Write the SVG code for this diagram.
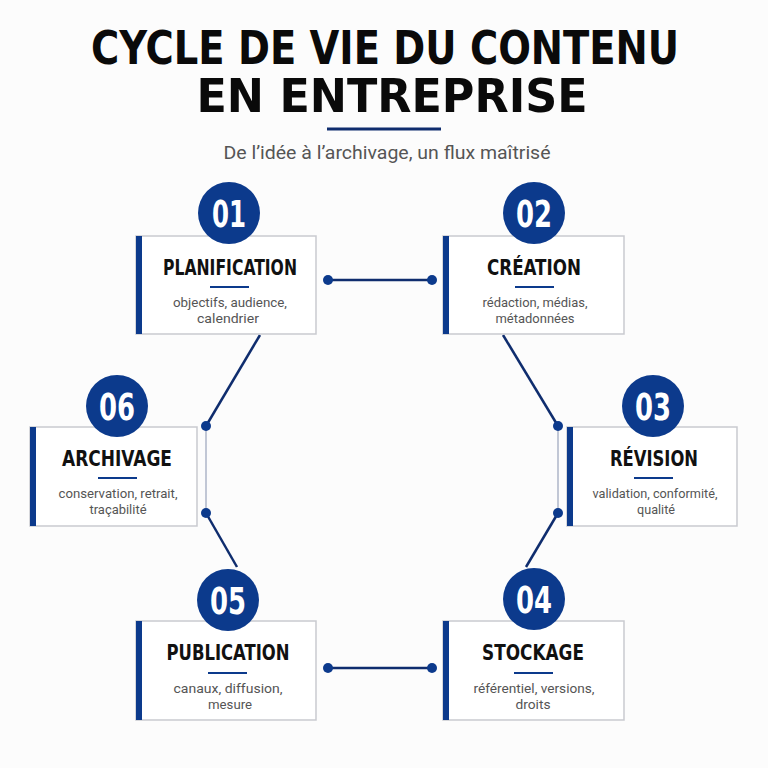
<svg xmlns="http://www.w3.org/2000/svg" width="768" height="768" viewBox="0 0 768 768">
<style>
.bg{fill:#fcfcfc}
.box{fill:#ffffff;stroke:#c9cacf;stroke-width:1.5}
.bar{fill:#0c3a8c}
.circ{fill:#0c3a8c}
.num{font-family:"DejaVu Sans Condensed","Roboto","Liberation Sans",sans-serif;font-weight:bold;font-size:37px;fill:#ffffff;text-anchor:middle}
.ttl{font-family:"DejaVu Sans Condensed","Roboto","Liberation Sans",sans-serif;font-weight:bold;font-size:21px;fill:#111111;text-anchor:middle}
.uline{stroke:#0c3a8c;stroke-width:2}
.desc{font-family:"Roboto","Liberation Sans",sans-serif;font-size:13.5px;fill:#555555;text-anchor:middle}
.conn{stroke:#0f2d6e;stroke-width:2.5;fill:none}
.thin{stroke:#aeb6c8;stroke-width:1.5;fill:none}
.dot{fill:#0c3a8c}
.h1{font-family:"DejaVu Sans Condensed","Roboto","Liberation Sans",sans-serif;font-weight:900;font-size:47px;fill:#0a0a0a;text-anchor:middle}
.sub{font-family:"Roboto","Liberation Sans",sans-serif;font-size:18px;fill:#555555;text-anchor:middle}
</style>
<rect class="bg" x="0" y="0" width="768" height="768"/>
<g id="header">
<text class="h1" x="385" y="64" textLength="588" lengthAdjust="spacingAndGlyphs">CYCLE DE VIE DU CONTENU</text>
<text class="h1" x="392" y="112" textLength="391" lengthAdjust="spacingAndGlyphs">EN ENTREPRISE</text>
<line x1="327" y1="129" x2="441" y2="129" stroke="#0f2d6e" stroke-width="3"/>
<text class="sub" x="387" y="159" textLength="327" lengthAdjust="spacingAndGlyphs">De l’idée à l’archivage, un flux maîtrisé</text>
</g>
<g id="connectors">
<line class="conn" x1="328" y1="280" x2="432" y2="280"/>
<circle class="dot" cx="328" cy="280" r="5"/>
<circle class="dot" cx="432" cy="280" r="5"/>
<line class="conn" x1="503" y1="335" x2="558" y2="426"/>
<line class="thin" x1="558" y1="426" x2="558" y2="513"/>
<line class="conn" x1="558" y1="513" x2="526" y2="567"/>
<circle class="dot" cx="558" cy="426" r="5"/>
<circle class="dot" cx="558" cy="513" r="5"/>
<line class="conn" x1="260" y1="335" x2="206" y2="426"/>
<line class="thin" x1="206" y1="426" x2="206" y2="513"/>
<line class="conn" x1="206" y1="513" x2="237" y2="567"/>
<circle class="dot" cx="206" cy="426" r="5"/>
<circle class="dot" cx="206" cy="513" r="5"/>
<line class="conn" x1="328" y1="668" x2="432" y2="668"/>
<circle class="dot" cx="328" cy="668" r="5"/>
<circle class="dot" cx="432" cy="668" r="5"/>
</g>
<g id="node01">
<rect class="box" x="136" y="236" width="180" height="98"/>
<rect class="bar" x="136" y="236" width="6" height="98"/>
<circle class="circ" cx="229" cy="213" r="31"/>
<text class="num" x="229" y="227" textLength="34" lengthAdjust="spacingAndGlyphs">01</text>
<text class="ttl" x="230" y="275" textLength="134" lengthAdjust="spacingAndGlyphs">PLANIFICATION</text>
<line class="uline" x1="210" y1="287" x2="249" y2="287"/>
<text class="desc" x="230" y="307" textLength="114" lengthAdjust="spacingAndGlyphs">objectifs, audience,</text>
<text class="desc" x="228" y="323" textLength="62" lengthAdjust="spacingAndGlyphs">calendrier</text>
</g>
<g id="node02">
<rect class="box" x="443" y="236" width="181" height="98"/>
<rect class="bar" x="443" y="236" width="6" height="98"/>
<circle class="circ" cx="534" cy="213" r="31"/>
<text class="num" x="534" y="227" textLength="36" lengthAdjust="spacingAndGlyphs">02</text>
<text class="ttl" x="534" y="275" textLength="94" lengthAdjust="spacingAndGlyphs">CRÉATION</text>
<line class="uline" x1="515" y1="287" x2="554" y2="287"/>
<text class="desc" x="535" y="307" textLength="105" lengthAdjust="spacingAndGlyphs">rédaction, médias,</text>
<text class="desc" x="535" y="323" textLength="79" lengthAdjust="spacingAndGlyphs">métadonnées</text>
</g>
<g id="node03">
<rect class="box" x="567" y="427" width="170" height="99"/>
<rect class="bar" x="567" y="427" width="6" height="99"/>
<circle class="circ" cx="653" cy="406" r="31"/>
<text class="num" x="653" y="420" textLength="36" lengthAdjust="spacingAndGlyphs">03</text>
<text class="ttl" x="654" y="466" textLength="88" lengthAdjust="spacingAndGlyphs">RÉVISION</text>
<line class="uline" x1="634" y1="478" x2="673" y2="478"/>
<text class="desc" x="655" y="498" textLength="125" lengthAdjust="spacingAndGlyphs">validation, conformité,</text>
<text class="desc" x="656" y="514" textLength="38" lengthAdjust="spacingAndGlyphs">qualité</text>
</g>
<g id="node04">
<rect class="box" x="443" y="621" width="181" height="99"/>
<rect class="bar" x="443" y="621" width="6" height="99"/>
<circle class="circ" cx="534" cy="599" r="31"/>
<text class="num" x="534" y="613" textLength="36" lengthAdjust="spacingAndGlyphs">04</text>
<text class="ttl" x="533" y="660" textLength="102" lengthAdjust="spacingAndGlyphs">STOCKAGE</text>
<line class="uline" x1="514" y1="673" x2="553" y2="673"/>
<text class="desc" x="534" y="693" textLength="121" lengthAdjust="spacingAndGlyphs">référentiel, versions,</text>
<text class="desc" x="533" y="709" textLength="35" lengthAdjust="spacingAndGlyphs">droits</text>
</g>
<g id="node05">
<rect class="box" x="136" y="621" width="180" height="99"/>
<rect class="bar" x="136" y="621" width="6" height="99"/>
<circle class="circ" cx="228" cy="600" r="31"/>
<text class="num" x="228" y="614" textLength="36" lengthAdjust="spacingAndGlyphs">05</text>
<text class="ttl" x="228" y="660" textLength="123" lengthAdjust="spacingAndGlyphs">PUBLICATION</text>
<line class="uline" x1="208" y1="673" x2="247" y2="673"/>
<text class="desc" x="228" y="693" textLength="109" lengthAdjust="spacingAndGlyphs">canaux, diffusion,</text>
<text class="desc" x="230" y="709" textLength="44" lengthAdjust="spacingAndGlyphs">mesure</text>
</g>
<g id="node06">
<rect class="box" x="30" y="427" width="167" height="99"/>
<rect class="bar" x="30" y="427" width="6" height="99"/>
<circle class="circ" cx="117" cy="406" r="31"/>
<text class="num" x="117" y="420" textLength="36" lengthAdjust="spacingAndGlyphs">06</text>
<text class="ttl" x="117" y="466" textLength="110" lengthAdjust="spacingAndGlyphs">ARCHIVAGE</text>
<line class="uline" x1="98" y1="478" x2="137" y2="478"/>
<text class="desc" x="118" y="498" textLength="119" lengthAdjust="spacingAndGlyphs">conservation, retrait,</text>
<text class="desc" x="118" y="514" textLength="57" lengthAdjust="spacingAndGlyphs">traçabilité</text>
</g>
</svg>
